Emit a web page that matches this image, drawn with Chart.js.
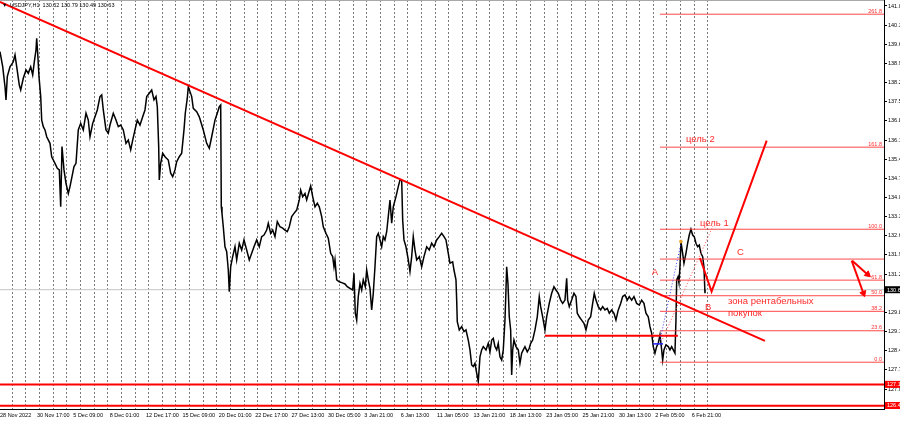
<!DOCTYPE html>
<html><head><meta charset="utf-8">
<script src="https://cdn.jsdelivr.net/npm/chart.js@4/dist/chart.umd.min.js"></script>
<style>html,body{margin:0;padding:0;background:#fff;overflow:hidden}canvas{display:block}</style>
</head><body>
<canvas id="c" width="900" height="424"></canvas>
<script>
// ---- time axis: trading days since 28 Nov 2022 00:00 (H1 bars / 24) ----
const xLabelHours = [0,65,129,193,257,321,385,449,513,577,641,705,769,833,897,961,1025,1089,1153,1217];
const xLabels = ['28 Nov 2022','30 Nov 17:00','5 Dec 09:00','8 Dec 01:00','12 Dec 17:00','15 Dec 09:00','20 Dec 01:00','22 Dec 17:00','27 Dec 13:00','30 Dec 05:00','3 Jan 21:00','6 Jan 13:00','11 Jan 05:00','13 Jan 21:00','18 Jan 13:00','23 Jan 05:00','25 Jan 21:00','30 Jan 13:00','2 Feb 05:00','6 Feb 21:00'];
const xMaxDay = 64.81;
const tradingDays = 52;
const yTicks = [141.0,140.3,139.6,138.9,138.2,137.5,136.8,136.1,135.4,134.7,134.0,133.3,132.6,131.9,131.2,129.8,129.1,128.4,127.7,127.0];
const yMin = 126.27, yMax = 141.219;
const header = 'USDJPY,H1  130.52 130.79 130.49 130.63';
const lastPrice = 130.63;

// ---- USDJPY H1 price path [day, price] ----
const priceSeries = [
[0,139.33],[0.198,138.78],[0.367,138.05],[0.440,137.57],[0.535,138.42],[0.733,138.78],[0.975,138.96],[1.100,139.21],[1.224,138.78],[1.415,138.11],
[1.518,137.93],[1.708,138.36],[1.906,138.66],[2.075,138.54],[2.251,138.78],[2.397,138.48],[2.515,138.96],[2.639,139.39],[2.690,139.82],[2.764,139.27],
[2.859,138.42],[2.984,137.69],[3.057,136.83],[3.174,136.59],[3.299,136.47],[3.424,136.22],[3.666,135.98],[3.790,135.49],[4.032,135.25],[4.201,135.07],
[4.347,135.01],[4.450,133.66],[4.545,135.86],[4.692,135.01],[4.838,134.52],[5.007,134.15],[5.132,134.40],[5.278,134.76],[5.425,135.13],[5.572,135.25],
[5.740,136.47],[5.916,136.71],[6.107,136.47],[6.305,137.08],[6.473,136.83],[6.598,136.22],[6.796,136.71],[6.964,136.95],[7.133,137.20],[7.331,137.69],
[7.456,137.75],[7.573,137.20],[7.771,136.47],[7.939,136.35],[8.064,136.65],[8.306,137.08],[8.504,136.83],[8.673,136.59],[8.849,136.65],[9.039,136.47],
[9.237,135.98],[9.406,136.10],[9.582,135.74],[9.728,136.10],[9.897,136.47],[10.066,136.83],[10.263,136.65],[10.461,136.95],[10.630,137.20],[10.755,137.69],
[10.945,137.81],[11.121,137.93],[11.290,137.57],[11.436,137.69],[11.532,137.32],[11.634,135.86],[11.678,134.64],[11.781,135.25],[11.927,135.62],[12.096,135.49],
[12.338,135.37],[12.514,134.89],[12.661,134.76],[12.829,135.01],[12.954,135.31],[13.145,135.49],[13.320,135.62],[13.489,136.47],[13.584,137.08],[13.731,137.63],
[13.804,138.05],[13.929,137.87],[14.054,137.69],[14.171,137.26],[14.420,137.14],[14.611,136.95],[14.904,136.47],[15.153,135.98],[15.344,135.80],[15.520,136.22],
[15.762,136.83],[15.930,137.08],[16.077,137.32],[16.180,137.38],[16.224,133.66],[16.275,133.42],[16.370,132.93],[16.495,132.20],[16.619,132.02],[16.737,131.35],
[16.810,130.56],[16.913,131.47],[17.059,131.84],[17.228,132.20],[17.352,131.72],[17.543,132.33],[17.719,132.08],[17.888,132.45],[18.085,132.08],[18.276,131.72],
[18.452,131.96],[18.621,132.20],[18.818,132.45],[19.009,132.20],[19.185,132.57],[19.354,132.63],[19.552,132.81],[19.669,133.06],[19.845,132.69],[19.992,132.81],
[20.160,132.57],[20.329,133.12],[20.527,132.93],[20.725,132.88],[20.893,132.81],[21.062,132.75],[21.209,132.93],[21.385,133.30],[21.553,133.42],[21.751,133.54],
[21.942,133.91],[22.044,134.27],[22.191,134.03],[22.360,134.15],[22.484,133.91],[22.653,134.21],[22.777,134.42],[22.924,134.03],[23.093,133.66],[23.261,133.79],
[23.408,133.66],[23.584,133.30],[23.701,132.93],[23.899,132.69],[24.068,132.51],[24.244,131.96],[24.390,131.84],[24.486,131.47],[24.559,131.72],[24.683,130.99],
[24.874,130.92],[25.050,130.89],[25.292,130.84],[25.461,130.74],[25.659,130.68],[25.856,130.62],[25.952,131.23],[26.047,129.77],[26.150,129.52],[26.267,130.38],
[26.392,130.86],[26.516,130.62],[26.633,130.99],[26.780,130.74],[26.883,131.35],[27.000,130.99],[27.125,130.68],[27.249,129.89],[27.367,130.50],[27.491,131.47],
[27.616,132.57],[27.733,132.69],[27.858,132.45],[27.982,132.20],[28.099,132.57],[28.224,132.45],[28.349,132.75],[28.466,133.30],[28.591,133.91],[28.716,133.06],
[28.833,133.66],[29.031,134.03],[29.199,134.40],[29.324,134.64],[29.449,134.64],[29.522,133.18],[29.617,132.45],[29.764,132.20],[29.933,131.72],[30.057,131.29],
[30.182,131.84],[30.299,132.57],[30.424,132.08],[30.548,131.72],[30.739,131.84],[30.915,131.47],[31.083,131.84],[31.281,132.20],[31.472,132.08],[31.648,132.33],
[31.817,132.20],[32.014,132.45],[32.205,132.57],[32.381,132.69],[32.550,132.57],[32.696,132.45],[32.865,131.96],[32.990,131.60],[33.187,131.65],[33.283,131.35],
[33.430,130.99],[33.481,130.25],[33.525,129.46],[33.672,129.16],[33.847,129.28],[34.016,129.10],[34.162,129.16],[34.331,128.79],[34.456,128.43],[34.580,127.88],
[34.697,127.82],[34.822,127.94],[34.947,127.58],[35.064,127.27],[35.189,128.18],[35.313,128.43],[35.431,128.55],[35.629,128.43],[35.797,128.67],[35.922,128.36],
[36.047,128.79],[36.164,128.85],[36.288,128.55],[36.413,128.43],[36.530,128.67],[36.655,128.18],[36.780,128.06],[36.897,128.43],[37.022,129.52],[37.095,130.62],
[37.146,131.47],[37.241,130.86],[37.337,129.64],[37.439,129.16],[37.513,127.51],[37.586,128.43],[37.681,128.79],[37.828,128.55],[37.997,128.43],[38.121,127.94],
[38.246,128.31],[38.363,128.43],[38.488,128.55],[38.656,128.36],[38.803,128.49],[38.906,128.67],[39.052,128.79],[39.221,129.16],[39.390,129.64],[39.536,130.38],
[39.639,130.01],[39.785,129.64],[39.954,129.16],[40.079,129.64],[40.269,130.13],[40.445,130.50],[40.614,130.74],[40.760,130.62],[40.929,130.50],[41.105,130.25],
[41.252,130.13],[41.420,130.25],[41.545,131.05],[41.618,130.25],[41.736,130.01],[41.911,130.25],[42.080,130.50],[42.227,130.38],[42.322,129.77],[42.468,129.64],
[42.644,129.52],[42.813,129.40],[42.960,129.16],[43.128,129.52],[43.304,129.64],[43.451,130.13],[43.568,130.50],[43.693,130.25],[43.861,130.01],[44.037,129.89],
[44.184,130.01],[44.353,129.89],[44.521,129.95],[44.668,129.77],[44.843,129.89],[45.012,129.77],[45.159,129.52],[45.328,129.89],[45.504,130.13],[45.650,130.38],
[45.819,130.44],[45.987,130.25],[46.134,130.38],[46.310,130.25],[46.479,130.38],[46.676,130.13],[46.867,130.07],[47.043,130.25],[47.212,130.13],[47.358,129.77],
[47.527,129.64],[47.652,129.28],[47.776,129.04],[47.893,128.55],[48.018,128.31],[48.143,128.55],[48.260,128.67],[48.385,128.98],[48.510,128.43],[48.583,128.06],
[48.678,128.43],[48.824,128.61],[48.993,128.55],[49.118,128.43],[49.242,128.55],[49.360,128.43],[49.484,128.31],[49.558,129.52],[49.609,130.99],[49.705,131.10],
[49.778,130.88],[49.851,131.47],[49.924,132.39],[50.048,131.96],[50.144,131.60],[50.291,131.96],[50.415,132.33],[50.533,132.63],[50.657,132.84],[50.782,132.63],
[50.899,132.57],[51.024,132.33],[51.148,132.20],[51.266,132.26],[51.390,131.96],[51.515,131.84],[51.610,131.47],[51.684,130.50],[51.700,130.63]
];

// ---- analyst drawings (data coordinates) ----
const fibNames  = ['0.0','23.6','38.2','50.0','61.8','100.0','161.8','261.8'];
const fibPrices = [127.98,129.13,129.84,130.41,130.98,132.84,135.84,140.70];
const fibStartDay = 48.39;
const levelC = 131.75;
const supportLevels = [127.17,126.39];
const rangeLevel = {from:39.95, to:49.7, price:128.95};
const trendLine = [[0,141.15],[56.08,128.76]];
const abcPath = [[51.32,131.79],[52.17,130.56],[56.21,136.08]];
const blueDotted = [[48.39,128.79],[49.98,132.45]];
const redDotted = [[48.58,128.83],[52.27,132.96]];
const blueMark = [[47.87,128.65],[48.61,128.65]];
const swingDot = [49.92,132.39];
const arrowOne = [[62.48,131.69],[63.61,131.19]];
const arrowTwo = [[62.44,131.69],[63.30,130.50]];
const notes = [
  {text:'цель 2', d:50.29, v:136.14},
  {text:'цель 1', d:51.32, v:133.05},
  {text:'C', d:54.03, v:132.01},
  {text:'A', d:47.78, v:131.26},
  {text:'B', d:51.69, v:130.00},
  {text:'зона рентабельных', d:53.37, v:130.20},
  {text:'покупок', d:53.37, v:129.78}
];

const FONT = '"Liberation Sans", Arial, sans-serif';
const pts = a => a.map(([x,y]) => ({x, y}));
const RED = '#ff0000';

function arrowRotation(ctx) {
  const ch = ctx.chart, ds = ch.data.datasets[ctx.datasetIndex].data;
  const i = ctx.dataIndex; if (i === 0) return 0;
  const sx = ch.scales.x, sy = ch.scales.y;
  const dx = sx.getPixelForValue(ds[i].x) - sx.getPixelForValue(ds[i-1].x);
  const dy = sy.getPixelForValue(ds[i].y) - sy.getPixelForValue(ds[i-1].y);
  return Math.atan2(dy, dx) * 180 / Math.PI + 90;
}

const datasets = [];
datasets.push({label:'bid', data: pts([[0,lastPrice],[xMaxDay,lastPrice]]), borderColor:'#c4c4c4', borderWidth:1, order:20});
datasets.push({label:'USDJPY', data: pts(priceSeries), borderColor:'#000', borderWidth:1.5, order:19});
fibPrices.forEach((p,i) => datasets.push({label:'fib '+fibNames[i], data: pts([[fibStartDay,p],[xMaxDay,p]]), borderColor:'rgba(255,40,40,0.85)', borderWidth:1, order:15}));
datasets.push({label:'C level', data: pts([[fibStartDay,levelC],[xMaxDay,levelC]]), borderColor:'rgba(255,40,40,0.85)', borderWidth:1, order:15});
supportLevels.forEach(p => datasets.push({label:'support', data: pts([[0,p],[xMaxDay,p]]), borderColor:RED, borderWidth:2, order:14}));
datasets.push({label:'range', data: pts([[rangeLevel.from,rangeLevel.price],[rangeLevel.to,rangeLevel.price]]), borderColor:RED, borderWidth:2, order:14});
datasets.push({label:'blue dotted', data: pts(blueDotted), borderColor:'#3a3aff', borderWidth:1, borderDash:[1,2], order:13});
datasets.push({label:'red dotted', data: pts(redDotted), borderColor:'#ff5050', borderWidth:1, borderDash:[1,2], order:13});
datasets.push({label:'blue mark', data: pts(blueMark), borderColor:'#2020ff', borderWidth:1.5, order:12});
datasets.push({label:'trend', data: pts(trendLine), borderColor:RED, borderWidth:2, order:11});
datasets.push({label:'abc', data: pts(abcPath), borderColor:RED, borderWidth:2, order:10});
[arrowOne, arrowTwo].forEach(a => datasets.push({label:'arrow', data: pts(a), borderColor:RED, borderWidth:2,
  pointStyle:'triangle', pointRadius:[0,3.6], pointBackgroundColor:RED, pointBorderColor:RED, pointBorderWidth:1,
  pointRotation: arrowRotation, order:9}));
datasets.push({label:'swing', data: pts([swingDot]), showLine:false, pointRadius:1.4, pointBackgroundColor:'#f0a020', pointBorderColor:'#f0a020', order:8});

const overlay = {
  id:'overlay',
  afterDatasetsDraw(chart) {
    const {ctx, chartArea, scales:{x, y}} = chart;
    ctx.save();
    ctx.font = '5.5px ' + FONT;
    ctx.fillStyle = '#ff3030';
    ctx.textAlign = 'right'; ctx.textBaseline = 'alphabetic';
    fibPrices.forEach((p,i) => ctx.fillText(fibNames[i], chartArea.right - 2, y.getPixelForValue(p) - 1.5));
    ctx.font = '9.5px ' + FONT;
    ctx.textAlign = 'left'; ctx.textBaseline = 'middle';
    ctx.fillStyle = '#ff2a2a';
    notes.forEach(n => ctx.fillText(n.text, x.getPixelForValue(n.d), y.getPixelForValue(n.v)));
    ctx.restore();
  },
  afterDraw(chart) {
    const {ctx, chartArea, scales:{y}, width} = chart;
    ctx.save();
    ctx.strokeStyle = '#a8a8a8'; ctx.lineWidth = 1;
    ctx.beginPath(); ctx.moveTo(0,0.5); ctx.lineTo(chartArea.right,0.5); ctx.stroke();
    ctx.fillStyle = '#000';
    ctx.font = '5.5px ' + FONT;
    ctx.textBaseline = 'middle'; ctx.textAlign = 'left';
    ctx.fillText('▼', 2, 5.5);
    ctx.fillText(header, 10, 5.5);
    const box = (v, txt, bg) => {
      let cy = y.getPixelForValue(v);
      cy = Math.min(cy, chartArea.bottom - 3.5);
      ctx.fillStyle = bg;
      ctx.fillRect(chartArea.right + 1, cy - 3.5, width - chartArea.right - 1, 7);
      ctx.fillStyle = '#fff';
      ctx.font = '5.5px ' + FONT;
      ctx.textBaseline = 'middle'; ctx.textAlign = 'left';
      ctx.fillText(txt, chartArea.right + 3, cy + 0.3);
    };
    box(lastPrice, '130.6', '#000');
    box(supportLevels[0], '127.1', '#ff0000');
    box(supportLevels[1], '126.4', '#ff0000');
    ctx.restore();
  }
};

new Chart(document.getElementById('c'), {
  type:'line',
  data:{datasets},
  options:{
    responsive:false, animation:false, events:[],
    layout:{padding:0, autoPadding:false},
    elements:{point:{radius:0}, line:{tension:0}},
    plugins:{legend:{display:false}, tooltip:{enabled:false}},
    scales:{
      x:{type:'linear', position:'bottom', min:0, max:xMaxDay,
        afterBuildTicks: s => { s.ticks = xLabelHours.map(h => ({value:h/24})); },
        afterFit: s => { s.height = 15; s.paddingLeft = 0; s.paddingRight = 0; },
        ticks:{align:'start', maxRotation:0, minRotation:0, autoSkip:false, padding:3, color:'#000',
          font:{family:FONT, size:5.5}, callback:(v,i) => xLabels[i]},
        grid:{display:false, drawTicks:false},
        border:{display:true, color:'#000', width:1}},
      sep:{type:'linear', position:'bottom', min:0, max:xMaxDay,
        afterBuildTicks: s => { s.ticks = Array.from({length:tradingDays}, (_,i) => ({value:i + 0.9})); },
        afterFit: s => { s.height = 0; s.paddingLeft = 0; s.paddingRight = 0; },
        ticks:{display:false},
        grid:{display:true, drawTicks:false, color:'#7a7a7a', lineWidth:1},
        border:{display:false, dash:[2,2]}},
      y:{type:'linear', position:'right', min:yMin, max:yMax,
        afterBuildTicks: s => { s.ticks = yTicks.map(v => ({value:v})); },
        afterFit: s => { s.width = 16; s.paddingTop = 0; s.paddingBottom = 0; },
        ticks:{padding:1, color:'#000', font:{family:FONT, size:5.5}, callback: v => v.toFixed(1)},
        grid:{drawOnChartArea:false, drawTicks:true, tickLength:3, color:'#000'},
        border:{display:true, color:'#000', width:1}}
    }
  },
  plugins:[overlay]
});
</script>
</body></html>
